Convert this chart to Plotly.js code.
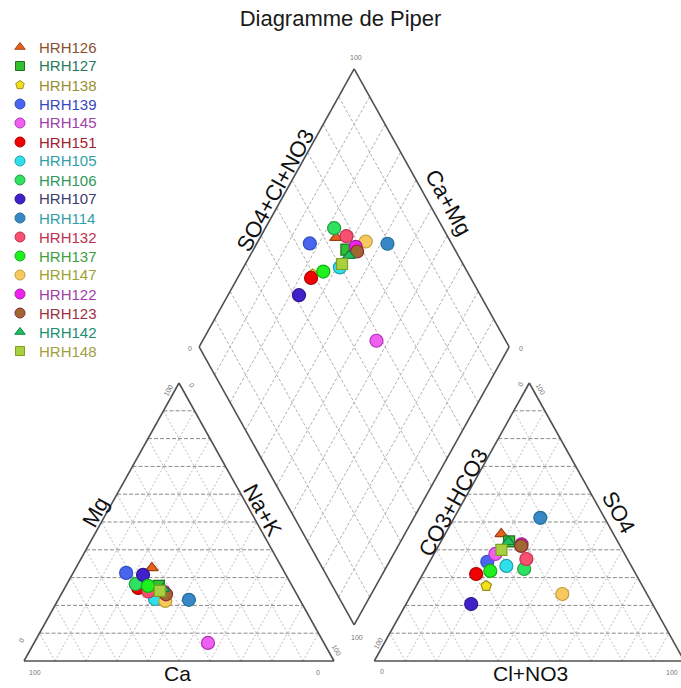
<!DOCTYPE html>
<html>
<head>
<meta charset="utf-8">
<script src="https://cdn.plot.ly/plotly-3.0.1.min.js"></script>
<style>html,body{margin:0;padding:0;background:#fff}</style>
</head>
<body>
<div id="chart" style="width:681px;height:688px"></div>
<script>
// Samples (key order = drawing order)
const samples = ['HRH126','HRH127','HRH138','HRH139','HRH145','HRH151','HRH105','HRH106','HRH107',
                 'HRH114','HRH132','HRH137','HRH147','HRH122','HRH123','HRH142','HRH148'];

// Cations, % meq/l
const ca  = [42.0, 43.0, 49.4, 51.2, 37.4, 50.0, 46.6, 50.1, 46.1, 35.8, 47.4, 46.5, 43.6, 42.5, 42.2, 42.1, 43.6];
const mg  = [33.5, 27.0, 27.0, 31.7,  6.5, 26.3, 22.3, 27.7, 31.0, 22.0, 25.0, 27.0, 21.6, 25.0, 24.0, 26.0, 25.2];
const nak = [24.5, 30.0, 23.6, 17.1, 56.1, 23.7, 31.1, 22.2, 22.9, 42.2, 27.6, 26.5, 34.8, 32.5, 33.8, 31.9, 31.2];

// Anions, % meq/l
const hco3 = [36.2, 35.0, 50.4, 45.7, 41.7, 51.5, 40.3, 35.1, 58.5, 20.7, 32.6, 46.4, 27.3, 31.5, 31.9, 35.3, 39.0];
const so4  = [45.7, 43.0, 27.0, 35.7, 38.5, 31.3, 34.2, 33.1, 20.5, 51.5, 36.7, 32.4, 24.1, 42.0, 41.4, 42.9, 40.0];
const cl   = [18.1, 22.0, 22.6, 18.6, 19.8, 17.2, 25.5, 31.8, 21.0, 27.8, 30.7, 21.2, 48.6, 26.5, 26.7, 21.8, 21.0];

// Marker styles
const symbols = ['triangle-up','square','pentagon','circle','circle','circle','circle','circle','circle',
                 'circle','circle','circle','circle','circle','circle','triangle-up','square'];
const fillColors  = ['#e8601c','#30c030','#f0e020','#4a66f0','#f060f0','#f00000','#30e0e8','#30e060','#4020c8',
                     '#3888c8','#f85070','#20f020','#f8c860','#f020f0','#a06830','#20c060','#a8d040'];
const lineColors  = ['#a04010','#207020','#a09010','#3050c0','#b030c0','#b00000','#20a0b0','#20a040','#301890',
                     '#20709a','#c03050','#10b010','#c0a030','#a020a0','#902838','#108040','#80a020'];
const labelColors = ['#8b5030','#2a7a5a','#9a9030','#3848c0','#a040a8','#a02030','#30a0a8','#309858','#404070',
                     '#30a0a8','#c03050','#40a040','#a0a030','#a040a8','#a03040','#209070','#a0a040'];

// Piper geometry: triangles of side 1, separated by a gap G; the diamond sits above the gap
const G = 0.13;
const H = Math.sqrt(3) / 2;
const X0 = 1 + G; // left corner of the anion triangle

function cationXY(i) {
  const t = ca[i] + mg[i] + nak[i];
  const m = mg[i] / t, n = nak[i] / t;
  return [n + m / 2, H * m];
}
function anionXY(i) {
  const t = hco3[i] + so4[i] + cl[i];
  const s = so4[i] / t, c = cl[i] / t;
  return [X0 + c + s / 2, H * s];
}
function diamondXY(i) {
  const a = (ca[i] + mg[i]) / (ca[i] + mg[i] + nak[i]);
  const b = (so4[i] + cl[i]) / (hco3[i] + so4[i] + cl[i]);
  return [1 + G / 2 + (b - a) / 2, H * (G + a + b)];
}

const traces = samples.map((name, i) => {
  const p = [cationXY(i), anionXY(i), diamondXY(i)];
  const isCircle = symbols[i] === 'circle';
  return {
    type: 'scatter', mode: 'markers', name, showlegend: false,
    x: p.map(q => q[0]), y: p.map(q => q[1]),
    marker: {
      symbol: symbols[i], size: isCircle ? 13 : 11, opacity: 1,
      color: fillColors[i], line: {color: lineColors[i], width: 1.2}
    },
    hovertemplate: name + '<extra></extra>'
  };
});

// Key at the top left: symbols on a pixel-unit overlay, names as text
const W = 681, HT = 688;
const FONT = 'Liberation Sans, Arial, sans-serif';
const KEY_X = 20, KEY_Y0 = 47, KEY_DY = 19;
traces.push({
  type: 'scatter', mode: 'markers', xaxis: 'x2', yaxis: 'y2', showlegend: false, hoverinfo: 'skip',
  x: samples.map(() => KEY_X), y: samples.map((s, i) => KEY_Y0 + KEY_DY * i),
  marker: {symbol: symbols, size: symbols.map(s => s === 'circle' ? 10 : 9), opacity: 1,
           color: fillColors, line: {color: lineColors, width: 1}}
});

// Frame and grid
const shapes = [];
function seg(x0, y0, x1, y1, color, dash, width) {
  shapes.push({type: 'line', xref: 'x', yref: 'y', x0, y0, x1, y1, layer: 'below',
               line: {color, dash, width}});
}
const OUT = '#505050';
const HGRID = '#8a8a8a';
const DGRID = '#bdbdbd';
const MGRID = '#b0b0b0';

[0, X0].forEach(ox => {
  for (let k = 1; k < 10; k++) {
    const t = k / 10;
    seg(ox + t / 2, H * t, ox + 1 - t / 2, H * t, HGRID, '4px,2px', 1);
    seg(ox + t, 0, ox + t + (1 - t) / 2, H * (1 - t), DGRID, '2px,2px', 1);
    seg(ox + t, 0, ox + t / 2, H * t, DGRID, '2px,2px', 1);
  }
  seg(ox, 0, ox + 1, 0, OUT, 'solid', 1.6);
  seg(ox + 1, 0, ox + 0.5, H, OUT, 'solid', 1.6);
  seg(ox + 0.5, H, ox, 0, OUT, 'solid', 1.6);
});

const B = [1 + G / 2, H * G];
for (let k = 1; k < 10; k++) {
  const t = k / 10;
  const p = [B[0] - t / 2, B[1] + H * t];
  seg(p[0], p[1], p[0] + 0.5, p[1] + H, MGRID, '3px,2px', 1);
  const q = [B[0] + t / 2, B[1] + H * t];
  seg(q[0], q[1], q[0] - 0.5, q[1] + H, MGRID, '3px,2px', 1);
}
const L = [B[0] - 0.5, B[1] + H], T = [B[0], B[1] + 2 * H], R = [B[0] + 0.5, B[1] + H];
seg(B[0], B[1], L[0], L[1], OUT, 'solid', 1.6);
seg(L[0], L[1], T[0], T[1], OUT, 'solid', 1.6);
seg(T[0], T[1], R[0], R[1], OUT, 'solid', 1.6);
seg(R[0], R[1], B[0], B[1], OUT, 'solid', 1.6);

// Text placed in page pixels
const annotations = [];
function label(px, py, text, size, angle, color, anchor) {
  annotations.push({xref: 'paper', yref: 'paper', x: px / W, y: 1 - py / HT, text,
                    showarrow: false, xanchor: anchor || 'center', yanchor: 'middle', textangle: angle || 0,
                    font: {family: FONT, size, color: color || '#111'}});
}
samples.forEach((name, i) => label(37, KEY_Y0 + KEY_DY * i, name, 15, 0, labelColors[i], 'left'));

// axis names
label(95, 512, 'Mg', 22, -61);
label(263, 510, 'Na+K', 22, 61);
label(178, 673, 'Ca', 21, 0);
label(453, 502, 'CO3+HCO3', 22, -61);
label(619, 512, 'SO4', 22, 61);
label(530, 673, 'Cl+NO3', 21, 0);
label(275, 190, 'SO4+Cl+NO3', 22, -61);
label(448, 203, 'Ca+Mg', 22, 61);
// corner values
const NC = '#777';
label(356, 57, '100', 7, 0, NC);
label(190, 348, '0', 7, 0, NC);
label(521, 348, '0', 7, 0, NC);
label(357, 637, '100', 7, 0, NC);
label(35, 672, '100', 7, 0, NC);
label(318, 672, '0', 7, 0, NC);
label(21, 640, '0', 7, -61, NC);
label(168, 390, '100', 7, -61, NC);
label(192, 385, '0', 7, 61, NC);
label(337, 650, '100', 7, 61, NC);
label(382, 671, '0', 7, 0, NC);
label(672, 672, '100', 7, 0, NC);
label(378, 643, '100', 7, -61, NC);
label(520, 384, '0', 7, -61, NC);
label(541, 389, '100', 7, 61, NC);

const layout = {
  width: W, height: HT,
  margin: {l: 0, r: 0, t: 0, b: 0},
  paper_bgcolor: '#ffffff', plot_bgcolor: '#ffffff',
  title: {text: 'Diagramme de Piper', x: 0.5, xanchor: 'center', y: 1 - 18 / HT, yanchor: 'middle',
          font: {family: FONT, size: 22, color: '#1a1a1a'}},
  xaxis: {range: [-24 / 310, 657 / 310], visible: false, fixedrange: true},
  yaxis: {range: [-27 / 321, 661 / 321], visible: false, fixedrange: true},
  xaxis2: {overlaying: 'x', range: [0, W], visible: false, fixedrange: true},
  yaxis2: {overlaying: 'y', range: [HT, 0], visible: false, fixedrange: true},
  showlegend: false,
  shapes, annotations
};

Plotly.newPlot('chart', traces, layout, {displayModeBar: false, staticPlot: true});
</script>
</body>
</html>
